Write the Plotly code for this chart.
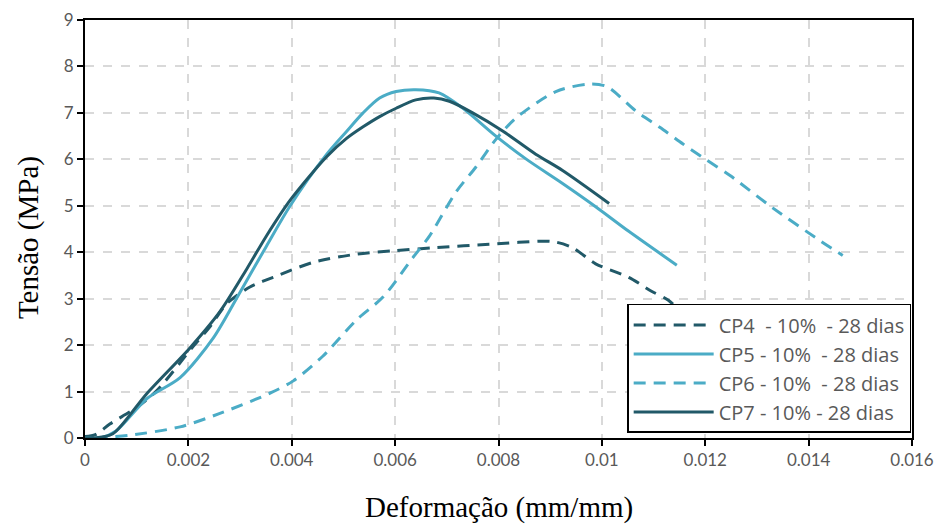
import plotly.graph_objects as go

# data (strain in mm/mm, stress in MPa)
cp4_x = [0, 0.0002, 0.00048, 0.001, 0.00139, 0.00209, 0.00242, 0.00274, 0.00319, 0.00364,
         0.00441, 0.00526, 0.00596, 0.00679, 0.00782, 0.00904, 0.00943, 0.00988, 0.01052,
         0.01096, 0.01128, 0.0117, 0.0122]
cp4_y = [0.03, 0.07, 0.3, 0.66, 1.02, 1.97, 2.4, 2.89, 3.25, 3.46,
         3.78, 3.96, 4.03, 4.1, 4.17, 4.23, 4.1, 3.75, 3.46,
         3.16, 2.97, 2.55, 2.2]

cp5_x = [0, 0.0003, 0.0006, 0.0012, 0.00184, 0.00248, 0.003, 0.00351, 0.00397, 0.00467,
         0.00506, 0.00538, 0.0057, 0.00602, 0.0064, 0.00685, 0.0073, 0.00795, 0.00853,
         0.00924, 0.00988, 0.01052, 0.01145]
cp5_y = [0, 0, 0.15, 0.85, 1.3, 2.15, 3.14, 4.13, 5.0, 6.1,
         6.6, 7.0, 7.32, 7.46, 7.5, 7.43, 7.11, 6.5, 6.01,
         5.48, 4.98, 4.45, 3.72]

cp6_x = [0.0002, 0.00087, 0.00184, 0.00261, 0.00361, 0.00403, 0.0046, 0.00525, 0.00577,
         0.00634, 0.00666, 0.00718, 0.00756, 0.00795, 0.00834, 0.00911, 0.00975, 0.01009,
         0.01067, 0.01112, 0.01157, 0.01202, 0.01248, 0.01331, 0.01422, 0.01466]
cp6_y = [0, 0.06, 0.24, 0.53, 0.98, 1.23, 1.76, 2.54, 3.04,
         3.88, 4.34, 5.3, 5.83, 6.43, 6.89, 7.46, 7.62, 7.57,
         7.03, 6.69, 6.33, 5.99, 5.65, 4.95, 4.25, 3.93]

cp7_x = [0, 0.0002, 0.00054, 0.00119, 0.00203, 0.00261, 0.00313, 0.00351, 0.00397,
         0.00467, 0.00506, 0.00538, 0.0057, 0.00602, 0.0064, 0.00675, 0.00705, 0.0075,
         0.00808, 0.00872, 0.00924, 0.01014]
cp7_y = [0, 0, 0.09, 0.95, 1.94, 2.72, 3.64, 4.35, 5.12,
         6.05, 6.45, 6.7, 6.92, 7.1, 7.28, 7.32, 7.25, 7.0,
         6.61, 6.11, 5.76, 5.05]

nb = "\u00a0"
names = [
    "CP4" + nb + nb + "- 10%" + nb + nb + "- 28 dias",
    "CP5 - 10%" + nb + nb + "- 28 dias",
    "CP6 - 10%" + nb + nb + "- 28 dias",
    "CP7 - 10% - 28 dias",
]

dark = "#215968"
light = "#4BACC6"

x_ticks = [0, 0.002, 0.004, 0.006, 0.008, 0.01, 0.012, 0.014, 0.016]
x_labels = ["0", "0.002", "0.004", "0.006", "0.008", "0.01", "0.012", "0.014", "0.016"]

fig = go.Figure()
series = [
    (cp4_x, cp4_y, names[0], dark, "12px,8px"),
    (cp5_x, cp5_y, names[1], light, "solid"),
    (cp6_x, cp6_y, names[2], light, "12px,8px"),
    (cp7_x, cp7_y, names[3], dark, "solid"),
]
for xs, ys, nm, col, dash in series:
    fig.add_trace(go.Scatter(
        x=xs, y=ys, name=nm, mode="lines",
        line=dict(color=col, width=3, dash=dash, shape="spline", smoothing=0.8),
    ))

tick_font = dict(family="Lato, sans-serif", size=17, color="#595959")
title_font = dict(family="Liberation Serif, Times New Roman, serif", size=29, color="black")

# page body adds an 8px offset, so the figure is a bit smaller than the window
fig.update_layout(
    width=939, height=520,
    margin=dict(l=77, r=35, t=12, b=90),
    plot_bgcolor="white", paper_bgcolor="white",
    legend=dict(
        x=0.999, y=0.012, xanchor="right", yanchor="bottom",
        bgcolor="white", bordercolor="black", borderwidth=1.5,
        font=dict(family="Open Sans, Lato, sans-serif", size=20, color="#595959"),
        tracegroupgap=0, itemwidth=80,
    ),
    annotations=[
        dict(text="Deformação (mm/mm)", xref="paper", yref="paper", x=0.5, y=-0.167,
             xanchor="center", yanchor="middle", showarrow=False, font=title_font),
        dict(text="Tensão (MPa)", xref="paper", yref="paper", x=-0.068, y=0.48,
             xanchor="center", yanchor="middle", showarrow=False, font=title_font,
             textangle=-90),
    ],
)
fig.update_xaxes(
    range=[0, 0.016], tickvals=x_ticks, ticktext=x_labels, automargin=False,
    showgrid=True, gridcolor="#D9D9D9", griddash="dash", gridwidth=1.5,
    showline=True, linecolor="black", linewidth=2, mirror=True,
    ticks="outside", ticklen=6, tickcolor="black", tickwidth=1.5,
    zeroline=False, tickfont=tick_font, ticklabeloverflow="allow",
)
fig.update_yaxes(
    range=[0, 9], dtick=1, automargin=False,
    showgrid=True, gridcolor="#D9D9D9", griddash="dash", gridwidth=1.5,
    showline=True, linecolor="black", linewidth=2, mirror=True,
    ticks="outside", ticklen=6, tickcolor="black", tickwidth=1.5,
    zeroline=False, tickfont=tick_font, ticklabeloverflow="allow",
)

fig.write_html("out.html")
